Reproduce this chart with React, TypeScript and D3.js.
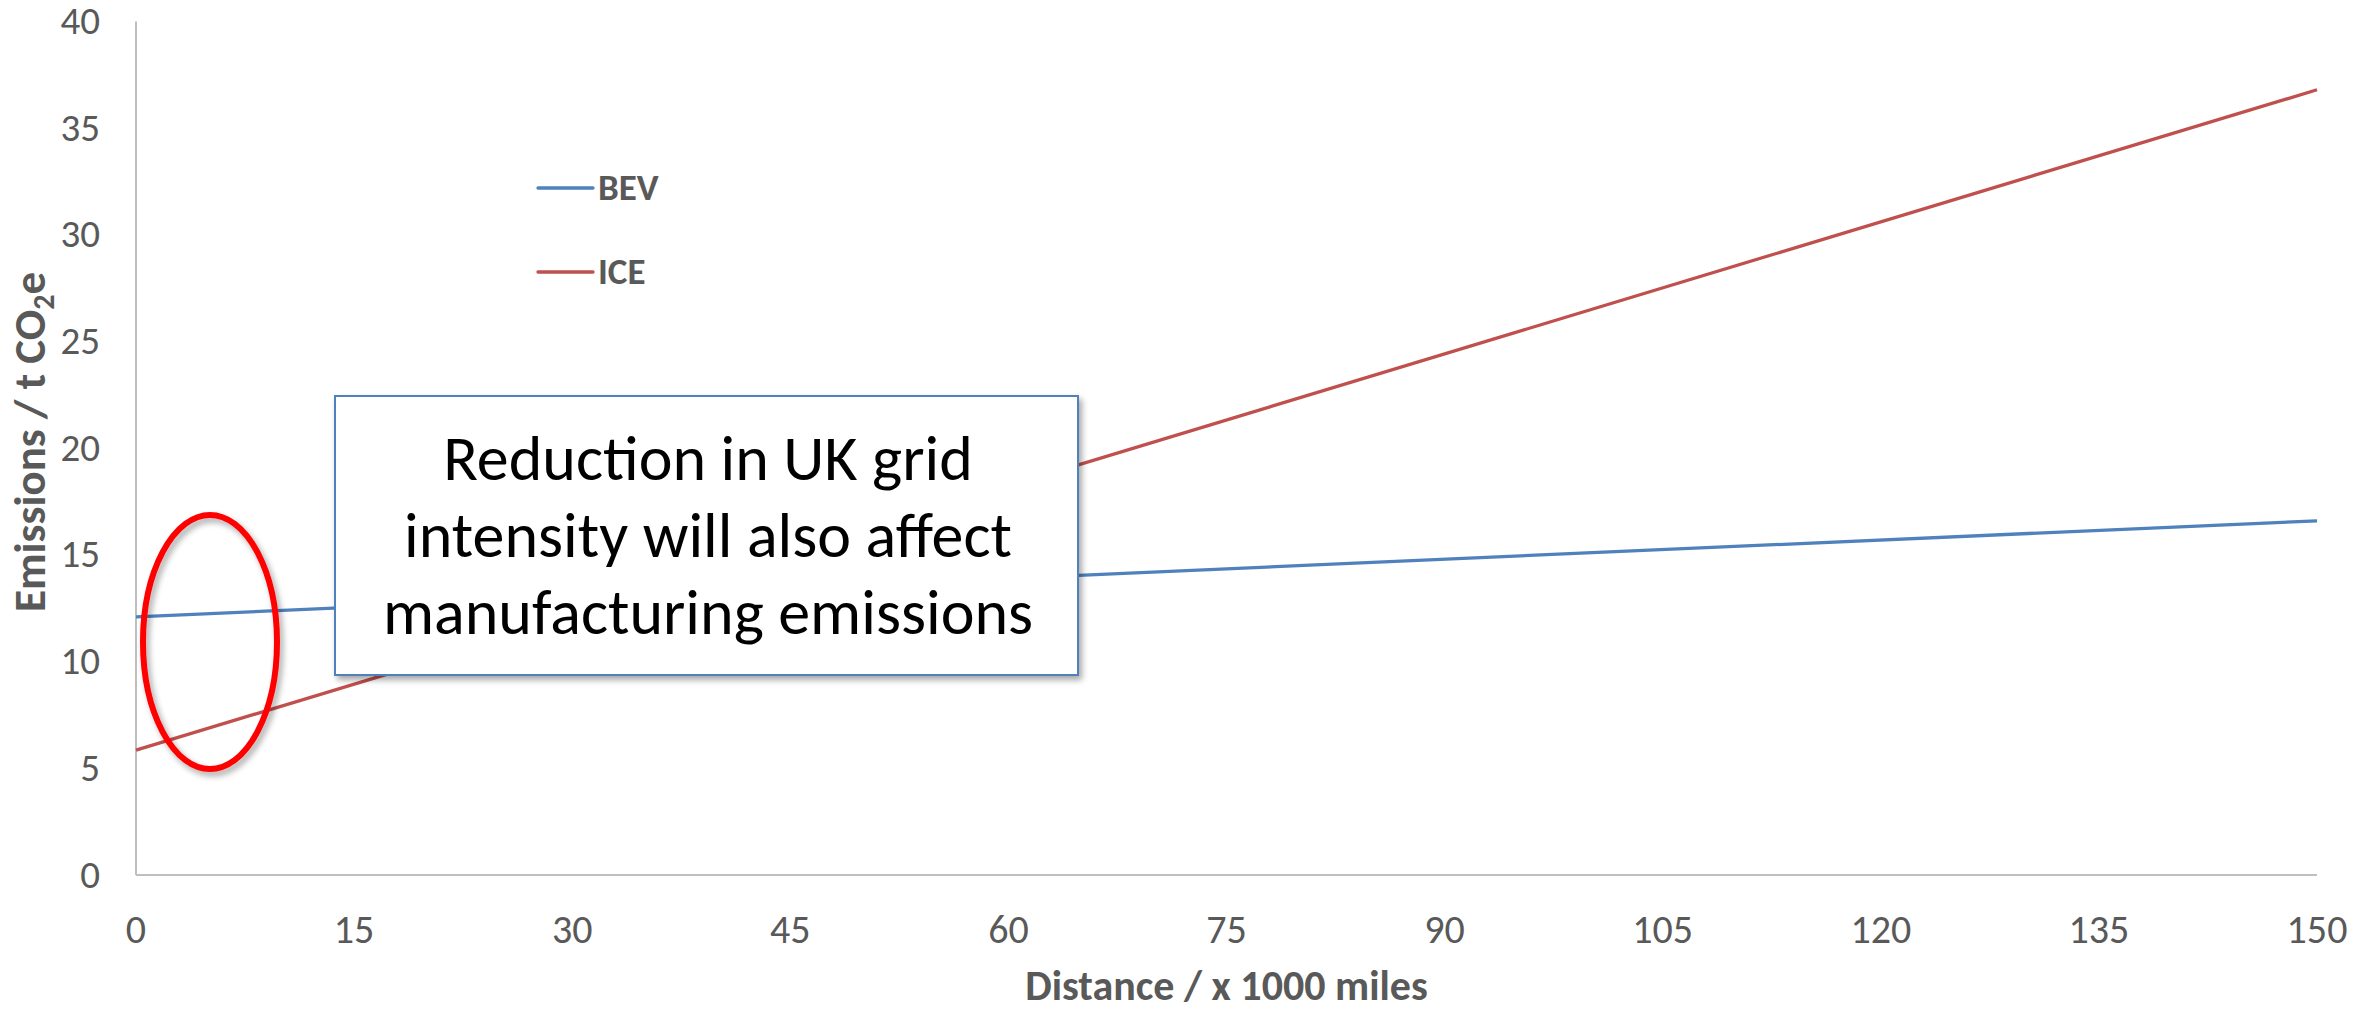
import React from "react";
import * as d3 from "d3";

const distances = [0, 150];
const bevValues = [12.1, 16.6];
const iceValues = [5.85, 36.8];
const xTicks = [0, 15, 30, 45, 60, 75, 90, 105, 120, 135, 150];
const yTicks = [0, 5, 10, 15, 20, 25, 30, 35, 40];
const seriesNames = ["BEV", "ICE"];
const calloutLines = [
  "Reduction in UK grid",
  "intensity will also affect",
  "manufacturing emissions",
];
const xTitle = "Distance / x 1000 miles";

const W = 2379;
const H = 1012;
const FONT = "Carlito, Calibri, Lato, 'Open Sans', sans-serif";
const GREY = "#595959";
const BLUE = "#4f81bd";
const RED = "#c0504d";

export default function App() {
  const x = d3.scaleLinear().domain([0, 150]).range([136, 2317]);
  const y = d3.scaleLinear().domain([0, 40]).range([875, 21.5]);
  const line = d3
    .line<[number, number]>()
    .x((d) => x(d[0]))
    .y((d) => y(d[1]));
  const bev = distances.map((d, i) => [d, bevValues[i]] as [number, number]);
  const ice = distances.map((d, i) => [d, iceValues[i]] as [number, number]);
  const series = [
    { name: seriesNames[0], data: bev, color: BLUE },
    { name: seriesNames[1], data: ice, color: RED },
  ];

  return (
    <svg
      width={W}
      height={H}
      style={{ position: "absolute", left: 0, top: 0, background: "#fff" }}
      fontFamily={FONT}
    >
      <defs>
        <filter id="shadow" x="-20%" y="-20%" width="140%" height="140%">
          <feGaussianBlur in="SourceAlpha" stdDeviation="3" />
          <feOffset dx="3" dy="4" result="off" />
          <feComponentTransfer>
            <feFuncA type="linear" slope="0.35" />
          </feComponentTransfer>
          <feMerge>
            <feMergeNode />
            <feMergeNode in="SourceGraphic" />
          </feMerge>
        </filter>
      </defs>
      <rect x={0} y={0} width={W} height={H} fill="#fff" />

      {/* axes */}
      <line x1={x(0)} x2={x(0)} y1={y(40)} y2={y(0)} stroke="#bfbfbf" strokeWidth={2} />
      <line x1={x(0)} x2={x(150)} y1={y(0)} y2={y(0)} stroke="#bfbfbf" strokeWidth={2} />

      {yTicks.map((t) => (
        <text key={"y" + t} x={100} y={y(t) + 12.5} textAnchor="end" fontSize={39} fill={GREY}>
          {t}
        </text>
      ))}
      {xTicks.map((t) => (
        <text key={"x" + t} x={x(t)} y={943} textAnchor="middle" fontSize={40} fill={GREY}>
          {t}
        </text>
      ))}

      <text x={(x(0) + x(150)) / 2} y={1000} textAnchor="middle" fontSize={42} fontWeight="bold" fill={GREY}>
        {xTitle}
      </text>
      <text
        transform={`translate(45, 442) rotate(-90)`}
        textAnchor="middle"
        fontSize={45}
        fontWeight="bold"
        fill={GREY}
      >
        Emissions / t CO<tspan fontSize={30} dy={9}>2</tspan>
        <tspan dy={-9}>e</tspan>
      </text>

      {/* series */}
      {series.map((s) => (
        <path key={s.name} d={line(s.data) || ""} fill="none" stroke={s.color} strokeWidth={3.3} />
      ))}

      {/* legend */}
      {series.map((s, i) => {
        const ly = 188 + i * 84;
        return (
          <g key={"lg" + s.name}>
            <line x1={538} x2={593} y1={ly} y2={ly} stroke={s.color} strokeWidth={3.3} strokeLinecap="round" />
            <text x={598} y={ly + 12} fontSize={37} fontWeight="bold" fill={GREY}>
              {s.name}
            </text>
          </g>
        );
      })}

      {/* callout box */}
      <rect x={335} y={396} width={743} height={279} fill="#fff" stroke={BLUE} strokeWidth={2} filter="url(#shadow)" />
      {calloutLines.map((l, i) => (
        <text key={"c" + i} x={708} y={480 + i * 77} textAnchor="middle" fontSize={64} fill="#000">
          {l}
        </text>
      ))}

      {/* ellipse */}
      <ellipse cx={210} cy={642} rx={67} ry={127} fill="none" stroke="#ff0000" strokeWidth={6} filter="url(#shadow)" />
    </svg>
  );
}
